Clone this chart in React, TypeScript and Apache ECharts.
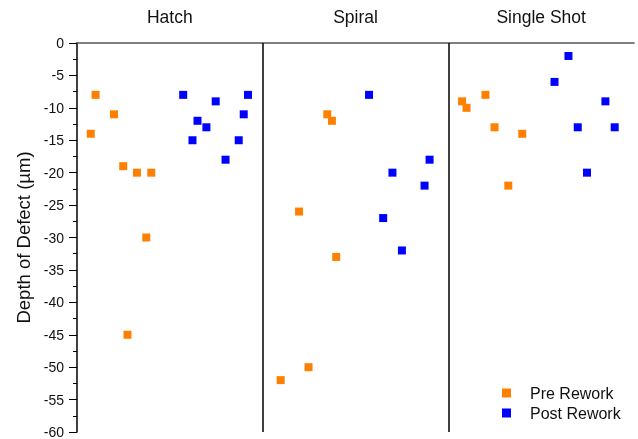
import React, { useEffect, useRef } from "react";
import * as echarts from "echarts";

const panels = ["Hatch", "Spiral", "Single Shot"];

// x = panel index + position within panel, y = depth (µm)
const preHatchX = [0.074, 0.1, 0.199, 0.249, 0.323, 0.4, 0.373, 0.272];
const preHatchY = [-14, -8, -11, -19, -20, -20, -30, -45];
const postHatchX = [0.572, 0.622, 0.649, 0.697, 0.747, 0.8, 0.871, 0.898, 0.921];
const postHatchY = [-8, -15, -12, -13, -9, -18, -15, -11, -8];

const preSpiralX = [0.348, 0.373, 0.196, 0.396, 0.247, 0.097];
const preSpiralY = [-11, -12, -26, -33, -50, -52];
const postSpiralX = [0.573, 0.899, 0.699, 0.872, 0.649, 0.75];
const postSpiralY = [-8, -18, -20, -22, -27, -32];

const preSingleX = [0.074, 0.098, 0.2, 0.249, 0.398, 0.323];
const preSingleY = [-9, -10, -8, -13, -14, -22];
const postSingleX = [0.647, 0.572, 0.846, 0.697, 0.896, 0.747];
const postSingleY = [-2, -6, -9, -13, -13, -20];

const yTicks = { min: -60, max: 0, interval: 5 };

function pts(offset: number, xs: number[], ys: number[]) {
  return xs.map((x, i) => [offset + x, ys[i]]);
}

export default function App() {
  const ref = useRef<HTMLDivElement>(null);
  useEffect(() => {
    if (!ref.current) return;
    const chart = echarts.init(ref.current, null, { renderer: "svg" });
    const font = "'Liberation Sans', Arial, sans-serif";
    const pre = [
      ...pts(0, preHatchX, preHatchY),
      ...pts(1, preSpiralX, preSpiralY),
      ...pts(2, preSingleX, preSingleY),
    ];
    const post = [
      ...pts(0, postHatchX, postHatchY),
      ...pts(1, postSpiralX, postSpiralY),
      ...pts(2, postSingleX, postSingleY),
    ];
    chart.setOption({
      animation: false,
      textStyle: { fontFamily: font },
      grid: { left: 77, right: 4, top: 43, bottom: 7, containLabel: false },
      xAxis: [
        {
          type: "category",
          position: "top",
          data: panels,
          boundaryGap: true,
          axisLine: { show: true, lineStyle: { color: "#555", width: 1.5 } },
          axisTick: { show: false },
          axisLabel: { color: "#111", fontSize: 17.5, margin: 17, fontFamily: font },
          splitLine: { show: false },
        },
        {
          type: "value",
          min: 0,
          max: 3,
          show: false,
          splitLine: { show: false },
        },
      ],
      yAxis: {
        type: "value",
        min: yTicks.min,
        max: yTicks.max,
        interval: yTicks.interval,
        name: "Depth of Defect (µm)",
        nameLocation: "middle",
        nameGap: 41,
        nameTextStyle: { fontSize: 18.5, color: "#111", fontFamily: font },
        axisLine: { show: true, onZero: false, lineStyle: { color: "#000", width: 1.5 } },
        axisTick: { show: true, length: 8, lineStyle: { color: "#000", width: 1 } },
        minorTick: { show: true, splitNumber: 2, length: 4, lineStyle: { color: "#000", width: 1 } },
        axisLabel: { fontSize: 14, color: "#111", margin: 13, fontFamily: font },
        splitLine: { show: false },
      },
      legend: {
        orient: "vertical",
        left: 502,
        top: 385,
        height: 60,
        padding: 0,
        itemWidth: 9,
        itemHeight: 9,
        itemGap: 4,
        icon: "rect",
        textStyle: { fontSize: 16, color: "#111", padding: [0, 0, 0, 14], fontFamily: font },
        data: ["Pre Rework", "Post Rework"],
      },
      series: [
        {
          name: "Pre Rework",
          type: "scatter",
          xAxisIndex: 1,
          symbol: "rect",
          symbolSize: 8,
          itemStyle: { color: "#FF8000", opacity: 1 },
          data: pre,
          markLine: {
            silent: true,
            symbol: "none",
            label: { show: false },
            lineStyle: { color: "#000", width: 1.5, type: "solid" },
            data: [{ xAxis: 1 }, { xAxis: 2 }],
          },
        },
        {
          name: "Post Rework",
          type: "scatter",
          xAxisIndex: 1,
          symbol: "rect",
          symbolSize: 8,
          itemStyle: { color: "#0000FF", opacity: 1 },
          data: post,
        },
      ],
    });
    return () => chart.dispose();
  }, []);
  return (
    <div
      ref={ref}
      style={{ position: "fixed", left: 0, top: 0, width: 638, height: 439 }}
    />
  );
}
